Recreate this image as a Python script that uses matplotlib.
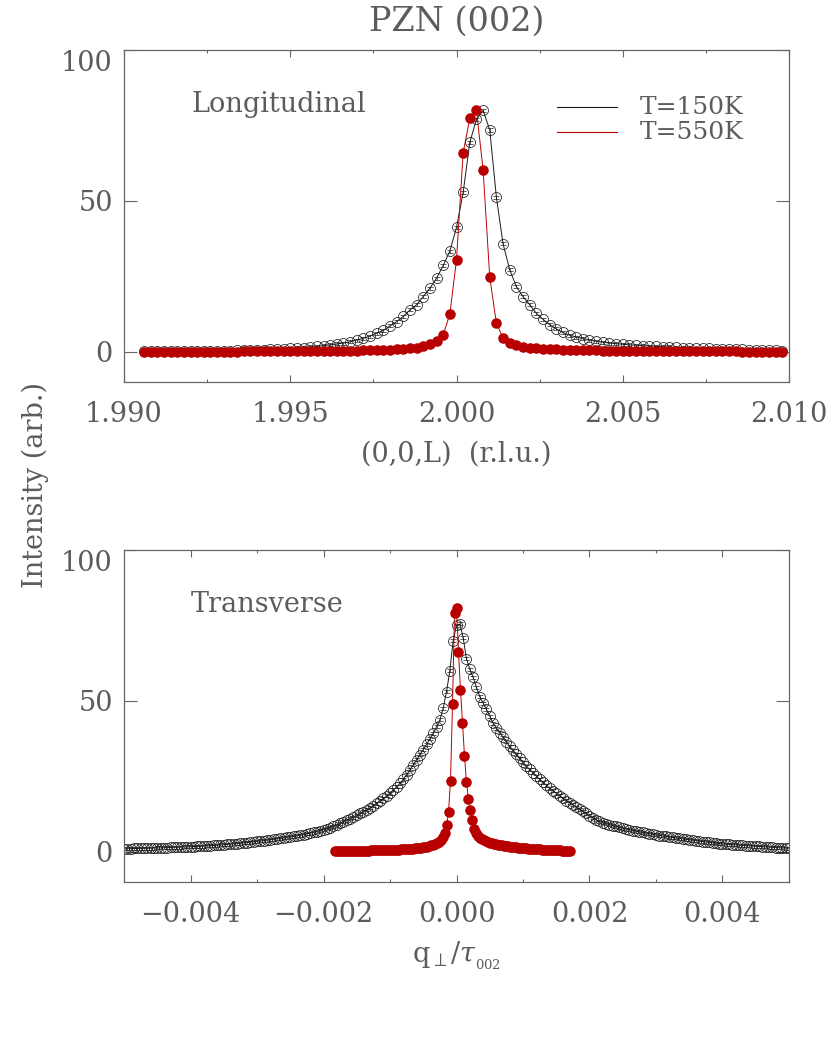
from __future__ import annotations

import numpy as np
import matplotlib

matplotlib.use("Agg")
import matplotlib.pyplot as plt
from matplotlib.lines import Line2D
from matplotlib.ticker import FuncFormatter, MultipleLocator

OUTPUT_PATH = "out.png"

TEXT_COLOR = "#5c5c5c"
AXIS_COLOR = "#666666"
BLACK = "#1a1a1a"
RED = "#b80000"

# Longitudinal scan: (0,0,L) in r.l.u., shared by both temperatures
LONG_L = [
    1.9906, 1.9908, 1.9910, 1.9912, 1.9914, 1.9916, 1.9918, 1.9920, 1.9922, 1.9924,
    1.9926, 1.9928, 1.9930, 1.9932, 1.9934, 1.9936, 1.9938, 1.9940, 1.9942, 1.9944,
    1.9946, 1.9948, 1.9950, 1.9952, 1.9954, 1.9956, 1.9958, 1.9960, 1.9962, 1.9964,
    1.9966, 1.9968, 1.9970, 1.9972, 1.9974, 1.9976, 1.9978, 1.9980, 1.9982, 1.9984,
    1.9986, 1.9988, 1.9990, 1.9992, 1.9994, 1.9996, 1.9998, 2.0000, 2.0002, 2.0004,
    2.0006, 2.0008, 2.0010, 2.0012, 2.0014, 2.0016, 2.0018, 2.0020, 2.0022, 2.0024,
    2.0026, 2.0028, 2.0030, 2.0032, 2.0034, 2.0036, 2.0038, 2.0040, 2.0042, 2.0044,
    2.0046, 2.0048, 2.0050, 2.0052, 2.0054, 2.0056, 2.0058, 2.0060, 2.0062, 2.0064,
    2.0066, 2.0068, 2.0070, 2.0072, 2.0074, 2.0076, 2.0078, 2.0080, 2.0082, 2.0084,
    2.0086, 2.0088, 2.0090, 2.0092, 2.0094, 2.0096, 2.0098,
]
LONG_150K = [
    0.2, 0.2, 0.2, 0.2, 0.2, 0.2, 0.2, 0.2, 0.2, 0.25,
    0.3, 0.3, 0.35, 0.4, 0.45, 0.5, 0.6, 0.65, 0.7, 0.8,
    0.9, 1.0, 1.1, 1.3, 1.4, 1.6, 1.8, 2.0, 2.3, 2.6,
    2.9, 3.3, 3.9, 4.5, 5.2, 6.2, 7.1, 8.6, 10.0, 11.7,
    13.9, 15.6, 18.3, 21.1, 24.4, 28.6, 33.4, 41.2, 52.8, 69.4,
    77.0, 80.0, 73.5, 51.2, 35.8, 27.2, 21.6, 18.3, 15.6, 12.8,
    10.8, 9.0, 7.6, 6.4, 5.5, 4.9, 4.4, 3.9, 3.5, 3.2,
    2.9, 2.7, 2.5, 2.3, 2.2, 2.0, 1.9, 1.8, 1.7, 1.6,
    1.5, 1.4, 1.3, 1.2, 1.15, 1.1, 1.0, 0.95, 0.9, 0.85,
    0.8, 0.7, 0.6, 0.55, 0.5, 0.45, 0.4,
]
LONG_550K = [
    0.1, 0.1, 0.1, 0.1, 0.1, 0.1, 0.1, 0.1, 0.1, 0.1,
    0.1, 0.1, 0.1, 0.1, 0.1, 0.15, 0.15, 0.15, 0.15, 0.15,
    0.15, 0.2, 0.2, 0.2, 0.2, 0.2, 0.25, 0.25, 0.3, 0.3,
    0.3, 0.35, 0.4, 0.45, 0.5, 0.55, 0.6, 0.7, 0.8, 0.95,
    1.1, 1.4, 1.8, 2.5, 3.5, 5.6, 12.5, 30.5, 66.0, 77.4,
    80.0, 60.3, 24.7, 9.5, 4.5, 3.0, 2.2, 1.7, 1.4, 1.2,
    1.0, 0.9, 0.8, 0.7, 0.65, 0.6, 0.55, 0.5, 0.45, 0.4,
    0.4, 0.35, 0.35, 0.3, 0.3, 0.3, 0.25, 0.25, 0.25, 0.2,
    0.2, 0.2, 0.2, 0.2, 0.15, 0.15, 0.15, 0.15, 0.15, 0.15,
    0.1, 0.1, 0.1, 0.1, 0.1, 0.1, 0.1,
]

# Transverse scans: q_perp / tau_002 in units of 1e-5
TRANS_Q_150K = [
    -500, -495, -490, -485, -480, -475, -470, -465, -460, -455,
    -450, -445, -440, -435, -430, -425, -420, -415, -410, -405,
    -400, -395, -390, -385, -380, -375, -370, -365, -360, -355,
    -350, -345, -340, -335, -330, -325, -320, -315, -310, -305,
    -300, -295, -290, -285, -280, -275, -270, -265, -260, -255,
    -250, -245, -240, -235, -230, -225, -220, -215, -210, -205,
    -200, -195, -190, -185, -180, -175, -170, -165, -160, -155,
    -150, -145, -140, -135, -130, -125, -120, -115, -110, -105,
    -100, -95, -90, -85, -80, -75, -70, -65, -60, -55,
    -50, -45, -40, -35, -30, -25, -20, -15, -10, -5,
    0,
    5, 10, 15, 20, 25, 30, 35, 40, 45, 50,
    55, 60, 65, 70, 75, 80, 85, 90, 95, 100,
    105, 110, 115, 120, 125, 130, 135, 140, 145, 150,
    155, 160, 165, 170, 175, 180, 185, 190, 195, 200,
    205, 210, 215, 220, 225, 230, 235, 240, 245, 250,
    255, 260, 265, 270, 275, 280, 285, 290, 295, 300,
    305, 310, 315, 320, 325, 330, 335, 340, 345, 350,
    355, 360, 365, 370, 375, 380, 385, 390, 395, 400,
    405, 410, 415, 420, 425, 430, 435, 440, 445, 450,
    455, 460, 465, 470, 475, 480, 485, 490, 495, 500,
]
TRANS_150K = [
    1.0, 1.0, 1.05, 1.1, 1.1, 1.15, 1.15, 1.2, 1.2, 1.25,
    1.3, 1.3, 1.35, 1.4, 1.45, 1.5, 1.5, 1.55, 1.6, 1.65,
    1.7, 1.75, 1.8, 1.85, 1.9, 2.0, 2.05, 2.1, 2.2, 2.3,
    2.35, 2.45, 2.55, 2.65, 2.75, 2.85, 2.95, 3.05, 3.2, 3.3,
    3.45, 3.6, 3.7, 3.85, 4.0, 4.15, 4.3, 4.45, 4.6, 4.8,
    4.95, 5.1, 5.3, 5.5, 5.7, 5.95, 6.2, 6.45, 6.7, 7.0,
    7.3, 7.6, 8.0, 8.4, 8.8, 9.4, 10.0, 10.5, 11.0, 11.5,
    12.1, 12.7, 13.3, 13.9, 14.6, 15.3, 16.1, 16.9, 17.7, 18.5,
    19.4, 20.5, 21.5, 22.7, 24.0, 25.5, 27.2, 28.8, 30.5, 32.2,
    33.8, 35.6, 37.4, 39.3, 41.4, 43.7, 47.6, 53.1, 60.0, 70.0,
    75.0,
    75.5, 71.0, 64.0, 60.5, 57.8, 54.5, 51.4, 49.3, 47.2, 45.0,
    42.6, 41.0, 39.5, 38.0, 36.4, 34.9, 33.6, 32.3, 31.0, 29.7,
    28.4, 27.3, 26.2, 25.1, 24.1, 23.1, 22.1, 21.1, 20.2, 19.4,
    18.6, 17.8, 17.0, 16.3, 15.6, 14.8, 14.1, 13.4, 12.7, 12.0,
    11.3, 10.6, 10.1, 9.7, 9.3, 9.0, 8.7, 8.4, 8.1, 7.8,
    7.55, 7.3, 7.05, 6.8, 6.6, 6.4, 6.2, 6.0, 5.8, 5.6,
    5.4, 5.25, 5.1, 4.9, 4.75, 4.6, 4.45, 4.3, 4.15, 4.0,
    3.85, 3.7, 3.55, 3.4, 3.25, 3.1, 3.0, 2.85, 2.75, 2.6,
    2.5, 2.45, 2.35, 2.3, 2.2, 2.15, 2.05, 2.0, 1.9, 1.85,
    1.8, 1.7, 1.65, 1.55, 1.5, 1.4, 1.35, 1.3, 1.25, 1.2,
]
TRANS_Q_550K = [
    -183, -180, -177, -174, -171, -168, -165, -162, -159, -156,
    -153, -150, -147, -144, -141, -138, -135, -132, -129, -126,
    -123, -120, -117, -114, -111, -108, -105, -102, -99, -96,
    -93, -90, -87, -84, -81, -78, -75, -72, -69, -66,
    -63, -60, -57, -54, -51, -48, -45, -42, -39, -36,
    -33, -30, -27, -24, -21, -18, -15, -12, -9, -6,
    -3, 0, 3, 6, 9, 12, 15, 18, 21, 24,
    27, 30, 33, 36, 39, 42, 45, 48, 51, 54,
    57, 60, 63, 66, 69, 72, 75, 78, 81, 84,
    87, 90, 93, 96, 99, 102, 105, 108, 111, 114,
    117, 120, 123, 126, 129, 132, 135, 138, 141, 144,
    147, 150, 153, 156, 159, 162, 165, 168, 171,
]
TRANS_550K = [
    0.3, 0.3, 0.3, 0.3, 0.3, 0.3, 0.3, 0.3, 0.3, 0.35,
    0.35, 0.35, 0.35, 0.4, 0.4, 0.4, 0.4, 0.4, 0.45, 0.45,
    0.45, 0.5, 0.5, 0.5, 0.55, 0.55, 0.6, 0.6, 0.6, 0.65,
    0.7, 0.7, 0.75, 0.8, 0.8, 0.85, 0.9, 0.95, 1.0, 1.05,
    1.1, 1.2, 1.3, 1.4, 1.5, 1.6, 1.75, 1.9, 2.1, 2.3,
    2.6, 2.9, 3.3, 3.8, 4.8, 6.3, 8.8, 13.3, 23.5, 49.0,
    79.0, 80.7, 66.3, 53.6, 42.8, 31.9, 23.1, 17.5, 13.9, 10.6,
    7.5, 6.2, 5.3, 4.7, 4.2, 3.8, 3.5, 3.2, 3.0, 2.8,
    2.65, 2.5, 2.35, 2.2, 2.1, 2.0, 1.9, 1.8, 1.7, 1.6,
    1.5, 1.45, 1.35, 1.3, 1.2, 1.15, 1.1, 1.05, 1.0, 0.95,
    0.9, 0.85, 0.8, 0.78, 0.75, 0.7, 0.67, 0.64, 0.6, 0.58,
    0.55, 0.5, 0.48, 0.45, 0.42, 0.4, 0.38, 0.35, 0.33,
]
ERR_150K = 0.5

Y_TICKS = [0, 50, 100]
LEGEND_LABELS = ["T=150K", "T=550K"]


def _fmt3(value: float, _pos: int) -> str:
    text = f"{value:.3f}"
    if text.startswith("-") and float(text) == 0.0:
        text = text[1:]
    return text.replace("-", "\u2212")


def _style_axis(ax, major: float, minor: float) -> None:
    for spine in ax.spines.values():
        spine.set_color(AXIS_COLOR)
        spine.set_linewidth(0.9)
    ax.set_ylim(-10, 100)
    ax.set_yticks(Y_TICKS)
    ax.xaxis.set_major_locator(MultipleLocator(major))
    ax.xaxis.set_minor_locator(MultipleLocator(minor))
    ax.xaxis.set_major_formatter(FuncFormatter(_fmt3))
    ax.tick_params(axis="x", which="major", direction="in", top=True, length=5,
                   width=0.8, color=AXIS_COLOR, pad=14, labelsize=19.5, labelcolor=TEXT_COLOR)
    ax.tick_params(axis="x", which="minor", direction="in", top=True, length=2.5,
                   width=0.8, color=AXIS_COLOR)
    ax.tick_params(axis="y", which="major", direction="in", right=True, length=9.5,
                   width=0.8, color=AXIS_COLOR, pad=8, labelsize=19.5, labelcolor=TEXT_COLOR)
    ax.tick_params(axis="y", which="minor", left=False, right=False)
    labels = ax.get_yticklabels()
    labels[-1].set_verticalalignment("top")


def _plot_pair(ax, x_black, y_black, x_red, y_red) -> None:
    ax.errorbar(
        x_black, y_black, yerr=ERR_150K,
        fmt="o-", ms=7.2, mfc="none", mec=BLACK, mew=0.55, color=BLACK, lw=0.7,
        ecolor="#333333", elinewidth=0.5, capsize=2.2, capthick=0.5, zorder=2,
    )
    ax.plot(x_red, y_red, "o-", ms=7.6, color=RED, mec=RED, mew=0.0, lw=0.7, zorder=3)


def build_figure():
    plt.rcParams.update({"font.family": "DejaVu Serif", "mathtext.fontset": "dejavuserif"})
    fig = plt.figure(figsize=(8.3, 10.38), dpi=100)
    ax_top = fig.add_axes([0.1494, 0.6320, 0.8012, 0.3198])
    ax_bot = fig.add_axes([0.1494, 0.1503, 0.8012, 0.3198])

    # Longitudinal
    _plot_pair(ax_top, LONG_L, LONG_150K, LONG_L, LONG_550K)
    ax_top.set_xlim(1.990, 2.010)
    _style_axis(ax_top, 0.005, 0.0025)
    ax_top.set_xlabel("(0,0,L)  (r.l.u.)", fontsize=19.5, color=TEXT_COLOR, labelpad=9)
    ax_top.text(0.101, 0.813, "Longitudinal", transform=ax_top.transAxes,
                fontsize=19.5, color=TEXT_COLOR, va="baseline", ha="left")

    # legend drawn as short lines + text, IDL style
    for (y_frac, col, lab) in zip([0.828, 0.752], [BLACK, RED], LEGEND_LABELS):
        ax_top.add_line(Line2D([0.651, 0.741], [y_frac, y_frac], transform=ax_top.transAxes,
                               color=col, lw=0.8))
        ax_top.text(0.776, y_frac, lab, transform=ax_top.transAxes, fontsize=18,
                    color=TEXT_COLOR, va="center", ha="left")

    # Transverse
    q_black = np.asarray(TRANS_Q_150K) * 1e-5
    q_red = np.asarray(TRANS_Q_550K) * 1e-5
    _plot_pair(ax_bot, q_black, TRANS_150K, q_red, TRANS_550K)
    ax_bot.set_xlim(-0.005, 0.005)
    _style_axis(ax_bot, 0.002, 0.001)
    ax_bot.set_xlabel(r"q$_{\perp}$/$\tau_{_{002}}$", fontsize=19.5, color=TEXT_COLOR, labelpad=8)
    ax_bot.text(0.100, 0.813, "Transverse", transform=ax_bot.transAxes,
                fontsize=19.5, color=TEXT_COLOR, va="baseline", ha="left")

    fig.text(0.5497, 0.979, "PZN (002)", ha="center", va="center", fontsize=24, color=TEXT_COLOR)
    fig.text(0.042, 0.533, "Intensity (arb.)", rotation=90, ha="center", va="center",
             fontsize=19.5, color=TEXT_COLOR)
    return fig


def main() -> int:
    fig = build_figure()
    fig.savefig(OUTPUT_PATH, dpi=100)
    plt.close(fig)
    return 0


if __name__ == "__main__":
    raise SystemExit(main())
